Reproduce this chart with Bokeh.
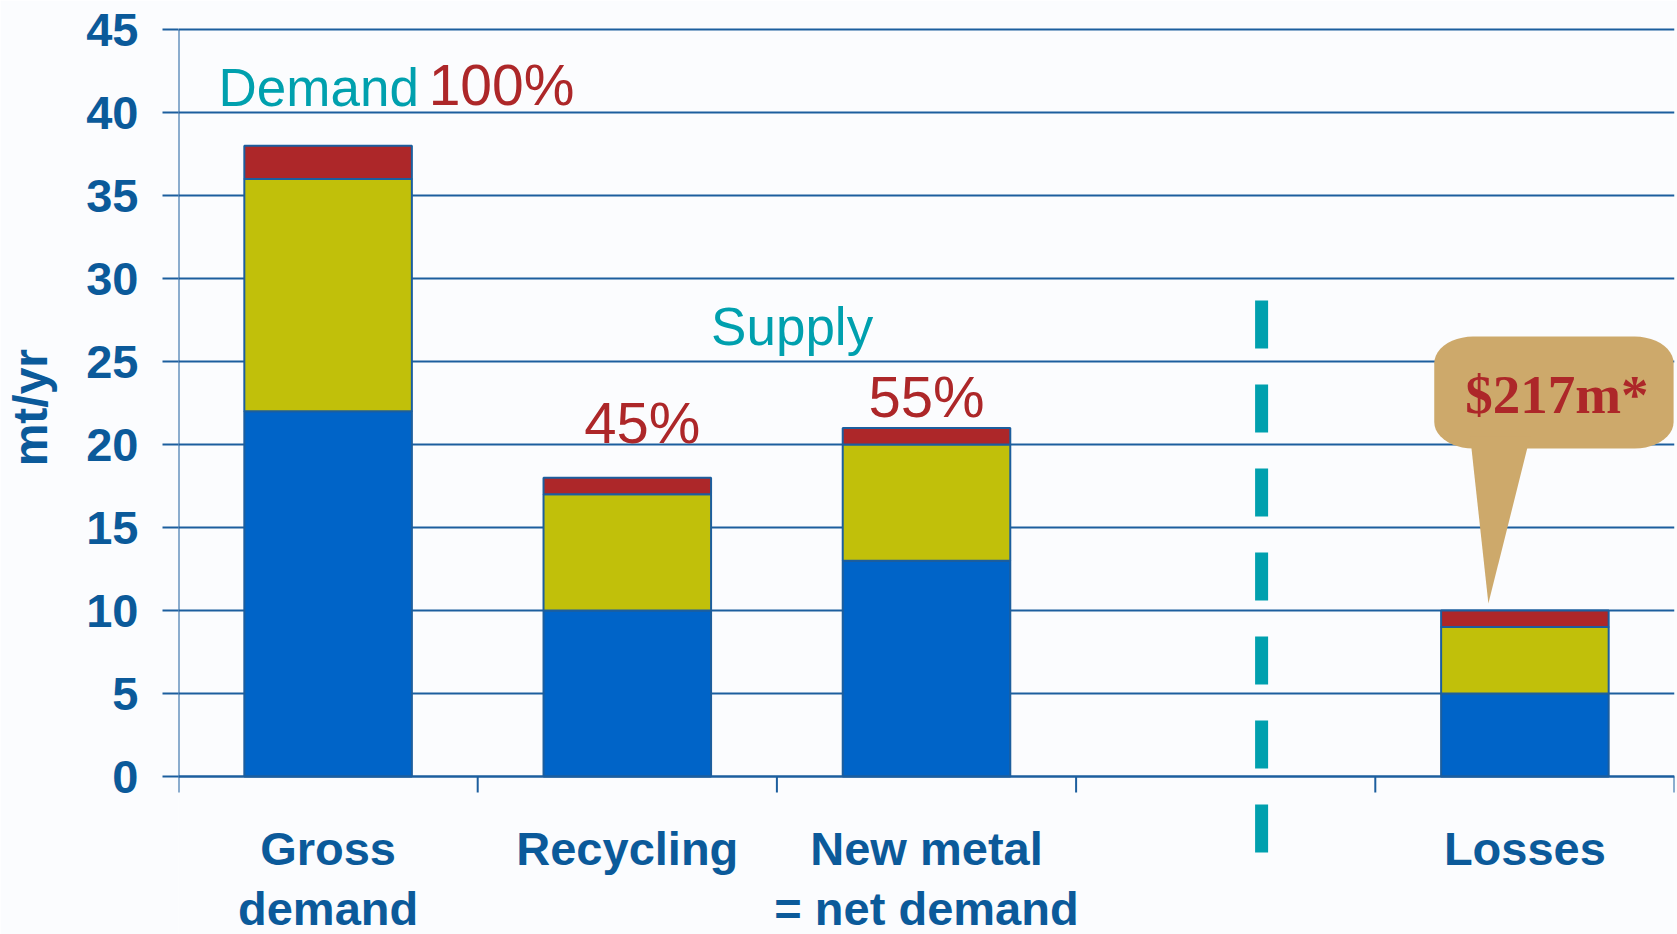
import math
import numpy as np
from bokeh.plotting import figure
from bokeh.models import ColumnDataSource, FixedTicker, Range1d
from bokeh.core.properties import value
from bokeh.embed import file_html
from bokeh.resources import INLINE

# ---------------- data ----------------
categories = ["Gross\ndemand", "Recycling", "New metal\n= net demand", "", "Losses"]
bar_slots = [0, 1, 2, 4]                 # which category slot each bar sits in
seg_blue = [22, 10, 13, 5]
seg_yellow = [14, 7, 7, 4]
seg_red = [2, 1, 1, 1]
pct_labels = ["100%", "45%", "55%"]
y_ticks = [0, 5, 10, 15, 20, 25, 30, 35, 40, 45]
callout_text = "$217m*"
y_title = "mt/yr"

# ---------------- style ----------------
BG = "#FBFCFE"
AXIS_BLUE = "#1C5E9E"
LABEL_BLUE = "#0B5A9A"
C_BLUE = "#0064C8"
C_YELLOW = "#C1C00A"
C_RED = "#AD2729"
TEAL = "#00A0AE"
TEXT_RED = "#AD2729"
TAN = "#CDA96B"
SANS = "Liberation Sans"

PX_PER_UNIT = 16.6
TOP_PAD = 27
H = 934
W = 1677
y_end = 45 + 2 / PX_PER_UNIT
y_start = y_end - (H - TOP_PAD) / PX_PER_UNIT
TICK_LEN = 16 / PX_PER_UNIT
DY = 1.15  # baseline correction for text glyphs

p = figure(width=W, height=H, output_backend="svg", toolbar_location=None,
           x_range=Range1d(0, 5), y_range=Range1d(y_start, y_end),
           min_border_left=178, min_border_right=3, min_border_top=TOP_PAD,
           min_border_bottom=0)
p.background_fill_color = BG
p.border_fill_color = BG
p.outline_line_color = None
p.xgrid.visible = False

# y axis
yax = p.yaxis[0]
yax.ticker = FixedTicker(ticks=y_ticks)
yax.axis_line_color = None
yax.major_tick_out = 16
yax.major_tick_in = 0
yax.minor_tick_line_color = None
yax.major_tick_line_color = AXIS_BLUE
yax.major_tick_line_width = 2
yax.major_label_text_font = SANS
yax.major_label_text_font_style = "bold"
yax.major_label_text_font_size = "47px"
yax.major_label_text_color = LABEL_BLUE
yax.major_label_standoff = 24
yax.axis_label = "\u00a0" * 11 + y_title
yax.axis_label_text_font = SANS
yax.axis_label_text_font_style = "bold"
yax.axis_label_text_font_size = "48px"
yax.axis_label_text_color = LABEL_BLUE
yax.axis_label_standoff = 26

p.ygrid.ticker = FixedTicker(ticks=y_ticks)
p.ygrid.grid_line_color = AXIS_BLUE
p.ygrid.grid_line_width = 2

# vertical axis line (down through the first category tick)
p.segment(x0=[0], y0=[-TICK_LEN], x1=[0], y1=[45], line_color=AXIS_BLUE, line_width=2)
# category boundary ticks below y=0
bounds = list(range(1, len(categories) + 1))
p.segment(x0=bounds, y0=[0] * len(bounds), x1=bounds, y1=[-TICK_LEN] * len(bounds),
          line_color=AXIS_BLUE, line_width=2)

# bottom axis at y=0 carrying the category labels
cat_pos = [i + 0.5 for i, c in enumerate(categories) if c]
cat_txt = [c for c in categories if c]
xax = p.xaxis[0]
xax.fixed_location = 0
xax.ticker = FixedTicker(ticks=cat_pos)
xax.major_label_overrides = {c: t for c, t in zip(cat_pos, cat_txt)}
xax.axis_line_color = AXIS_BLUE
xax.axis_line_width = 2
xax.major_tick_line_color = None
xax.minor_tick_line_color = None
xax.major_tick_out = 0
xax.major_tick_in = 0
xax.major_label_standoff = 45
xax.major_label_text_font = SANS
xax.major_label_text_font_style = "bold"
xax.major_label_text_font_size = "47px"
xax.major_label_text_color = LABEL_BLUE
xax.major_label_text_line_height = 1.14

# stacked bars
src = ColumnDataSource(dict(x=[s + 0.5 for s in bar_slots],
                            blue=seg_blue, yellow=seg_yellow, red=seg_red))
p.vbar_stack(["blue", "yellow", "red"], x="x", width=0.56, source=src,
             fill_color=[C_BLUE, C_YELLOW, C_RED],
             line_color=AXIS_BLUE, line_width=2)

# dashed separator
p.line(x=[3.62, 3.62], y=[28.67, -4.58], line_color=TEAL, line_width=13,
       line_dash="48 36", line_cap="butt")

# texts
p.text(x=[0.134], y=[40.36 + DY], text=["Demand"], text_font=value(SANS),
       text_font_size="53px", text_color=TEAL, text_baseline="alphabetic",
       text_align="left")
p.text(x=[1.78], y=[25.96 + DY], text=["Supply"], text_font=value(SANS),
       text_font_size="53px", text_color=TEAL, text_baseline="alphabetic",
       text_align="left")
p.text(x=[0.836], y=[40.48 + DY], text=[pct_labels[0]], text_font=value(SANS),
       text_font_size="57px", text_color=TEXT_RED, text_baseline="alphabetic",
       text_align="left")
p.text(x=[1.55, 2.5], y=[20.2 + DY, 21.75 + DY], text=pct_labels[1:],
       text_font=value(SANS), text_font_size="58px", text_color=TEXT_RED,
       text_baseline="alphabetic", text_align="center")

# callout (rounded box + pointer)
bx0, bx1, by0, by1 = 4.197, 4.997, 19.76, 26.5
rx, ry = 0.13, 1.6
def arc(cx, cy, a0, a1, n=12):
    t = np.linspace(a0, a1, n)
    return list(cx + rx * np.cos(t)), list(cy + ry * np.sin(t))
xs, ys = [], []
for (cx, cy, a0, a1) in [(bx1 - rx, by0 + ry, -math.pi / 2, 0),
                         (bx1 - rx, by1 - ry, 0, math.pi / 2),
                         (bx0 + rx, by1 - ry, math.pi / 2, math.pi),
                         (bx0 + rx, by0 + ry, math.pi, 1.5 * math.pi)]:
    ax_, ay_ = arc(cx, cy, a0, a1)
    xs += ax_
    ys += ay_
p.patch(xs, ys, fill_color=TAN, line_color=None)
p.patch([4.317, 4.518, 4.378], [20.5, 20.5, 10.42], fill_color=TAN, line_color=None)
p.text(x=[4.607], y=[21.99 + 1.0], text=[callout_text], text_font=value("Liberation Serif"),
       text_font_style="bold", text_font_size="55px", text_color=TEXT_RED,
       text_baseline="alphabetic", text_align="center")

open("out.html", "w").write(file_html(p, INLINE))
